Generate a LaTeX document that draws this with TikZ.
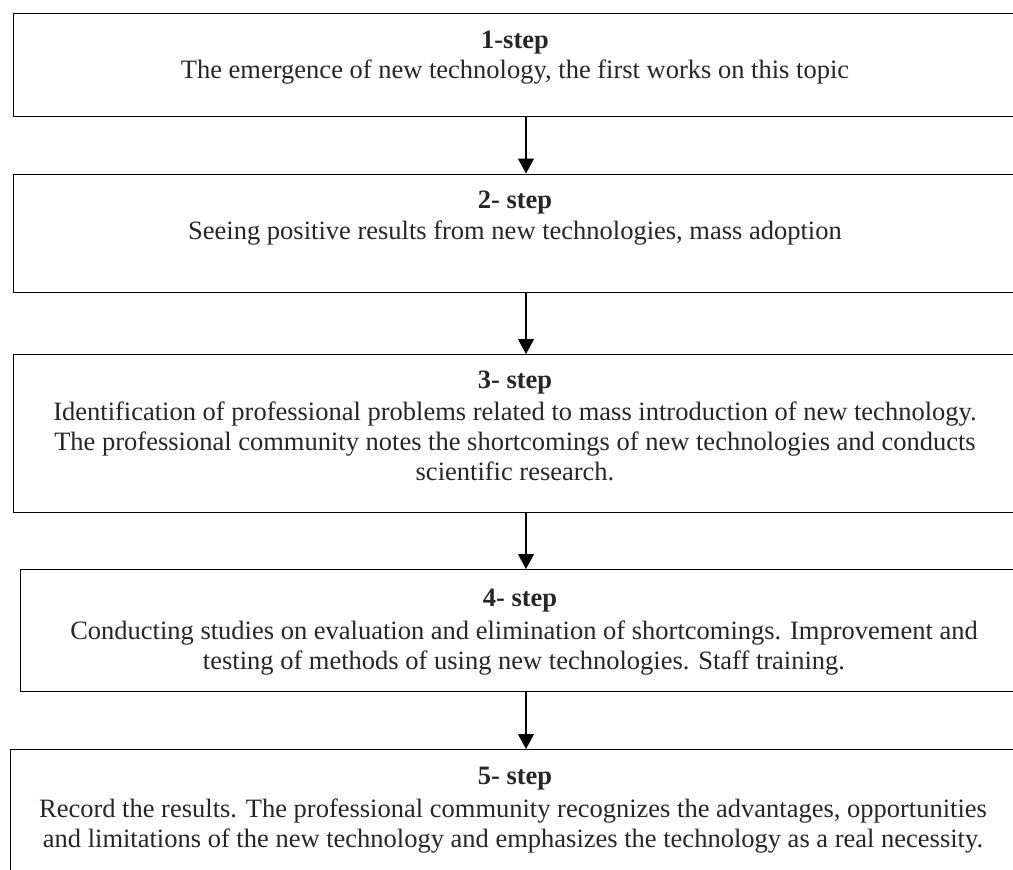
\documentclass[tikz,border=0pt]{standalone}
\usepackage{fontspec}
\setmainfont{Liberation Serif}
\usetikzlibrary{arrows.meta}
\tikzset{
  stepbox/.style={draw=black, line width=1.4pt, rectangle, inner sep=0pt, anchor=north west},
  txt/.style={anchor=base, inner sep=0pt, font=\fontsize{26.5}{30}\selectfont, text=black!85},
  ttl/.style={txt, font=\fontsize{26.5}{30}\selectfont\bfseries},
  flow/.style={line width=1.3pt, -{Triangle[length=15pt,width=16pt]}}
}
\begin{document}
\begin{tikzpicture}[x=1pt,y=-1pt]
\useasboundingbox (0,0) rectangle (1013,870);
\clip (0,0) rectangle (1013,870);
% boxes
\node[stepbox, minimum width=1030pt, minimum height=103pt] (b1) at (13,13) {};
\node[stepbox, minimum width=1030pt, minimum height=118.5pt] (b2) at (13,173.5) {};
\node[stepbox, minimum width=1030pt, minimum height=158pt] (b3) at (13,354) {};
\node[stepbox, minimum width=1030pt, minimum height=122pt] (b4) at (20,569) {};
\node[stepbox, minimum width=1030pt, minimum height=160pt] (b5) at (9.5,749) {};
% texts
\node[ttl] (t1) at (515,48) {1-step};
\node[txt] (t1a) at (515,78) {The emergence of new technology, the first works on this topic};
\node[ttl] (t2) at (515,208.5) {2- step};
\node[txt] (t2a) at (515,239) {Seeing positive results from new technologies, mass adoption};
\node[ttl] (t3) at (515,388) {3- step};
\node[txt] (t3a) at (515,420) {Identification of professional problems related to mass introduction of new technology.};
\node[txt] (t3b) at (515,450) {The professional community notes the shortcomings of new technologies and conducts};
\node[txt] (t3c) at (515,480) {scientific research.};
\node[ttl] (t4) at (520,606) {4- step};
\node[txt] (t4a) at (524,639) {Conducting studies on evaluation and elimination of shortcomings. Improvement and};
\node[txt] (t4b) at (524,669) {testing of methods of using new technologies. Staff training.};
\node[ttl] (t5) at (515,784) {5- step};
\node[txt] (t5a) at (513,817) {Record the results. The professional community recognizes the advantages, opportunities};
\node[txt] (t5b) at (513,847) {and limitations of the new technology and emphasizes the technology as a real necessity.};
% arrows
\draw[flow] (b1.south west -| 526,0) -- (b2.north west -| 526,0);
\draw[flow] (b2.south west -| 526,0) -- (b3.north west -| 526,0);
\draw[flow] (b3.south west -| 526,0) -- (b4.north west -| 526,0);
\draw[flow] (b4.south west -| 526,0) -- (b5.north west -| 526,0);
\end{tikzpicture}
\end{document}
